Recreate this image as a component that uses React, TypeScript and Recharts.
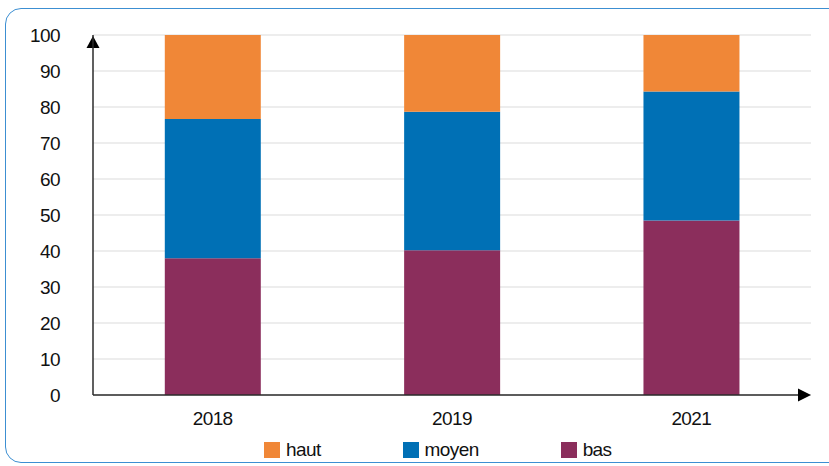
import React from "react";
import { BarChart, Bar, XAxis, YAxis, CartesianGrid, ReferenceLine } from "recharts";

const categories = ["2018", "2019", "2021"];
const bas = [38, 40.2, 48.5];
const moyen = [38.7, 38.5, 35.8];
const haut = [23.3, 21.3, 15.7];
const yTicks = [0, 10, 20, 30, 40, 50, 60, 70, 80, 90, 100];

const series = [
  { key: "haut", label: "haut", color: "#F08737" },
  { key: "moyen", label: "moyen", color: "#0070B5" },
  { key: "bas", label: "bas", color: "#8B2E5C" },
];

const data = categories.map((c, i) => ({ year: c, bas: bas[i], moyen: moyen[i], haut: haut[i] }));

const FONT = "'Liberation Sans', Arial, sans-serif";
const AXIS = "#2b2b2b";
const TICK = { fill: "#111", fontSize: 19, fontFamily: FONT, letterSpacing: -0.6 };

const XArrow = (props: any) => {
  const { x1, x2, y1 } = props;
  const x = Math.max(x1, x2);
  return (
    <g>
      <line x1={Math.min(x1, x2)} x2={x - 6} y1={y1} y2={y1} stroke={AXIS} strokeWidth={1.5} />
      <path d={`M ${x} ${y1} L ${x - 13} ${y1 - 6.5} L ${x - 13} ${y1 + 6.5} Z`} fill="#000" />
    </g>
  );
};

const YArrow = (props: any) => {
  const { x1, x2, y1 } = props;
  const x = Math.min(x1, x2);
  const t = y1 + 1;
  return <path d={`M ${x} ${t} L ${x - 6.5} ${t + 12} L ${x + 6.5} ${t + 12} Z`} fill="#000" />;
};

export default function App() {
  return (
    <div style={{ position: "fixed", left: 0, top: 0, width: 829, height: 466, background: "#fff", overflow: "hidden", fontFamily: FONT }}>
      <div
        style={{
          position: "absolute",
          left: 5,
          top: 8,
          width: 860,
          height: 455,
          border: "1.5px solid #3C8FD2",
          borderRadius: 16,
          boxSizing: "border-box",
        }}
      />
      <div style={{ position: "absolute", left: 0, top: 0 }}>
        <BarChart
          width={829}
          height={466}
          data={data}
          margin={{ top: 35, right: 18, bottom: 41, left: 0 }}
          barCategoryGap="30%"
        >
          <CartesianGrid vertical={false} stroke="#dcdcdc" strokeWidth={1.2} />
          <XAxis
            dataKey="year"
            axisLine={false}
            tickLine={false}
            tickSize={0}
            tickMargin={17}
            height={30}
            tick={TICK}
          />
          <YAxis
            type="number"
            domain={[0, 100]}
            ticks={yTicks}
            interval={0}
            width={93}
            axisLine={{ stroke: AXIS, strokeWidth: 1.5 }}
            tickLine={false}
            tickSize={0}
            tickMargin={33}
            tick={TICK}
          />
          <Bar dataKey="bas" stackId="a" fill="#8B2E5C" isAnimationActive={false} />
          <Bar dataKey="moyen" stackId="a" fill="#0070B5" isAnimationActive={false} />
          <Bar dataKey="haut" stackId="a" fill="#F08737" isAnimationActive={false} />
          <ReferenceLine y={0} shape={XArrow} />
          <ReferenceLine y={100} shape={YArrow} />
        </BarChart>
      </div>
      <div style={{ position: "absolute", left: 264, top: 441.5, display: "flex", gap: 82, alignItems: "center" }}>
        {series.map((s) => (
          <div key={s.key} style={{ display: "flex", alignItems: "center", height: 16 }}>
            <div style={{ width: 16, height: 16, background: s.color, marginRight: 6 }} />
            <span style={{ fontSize: 19, letterSpacing: -0.6, lineHeight: "16px", color: "#111" }}>{s.label}</span>
          </div>
        ))}
      </div>
    </div>
  );
}
